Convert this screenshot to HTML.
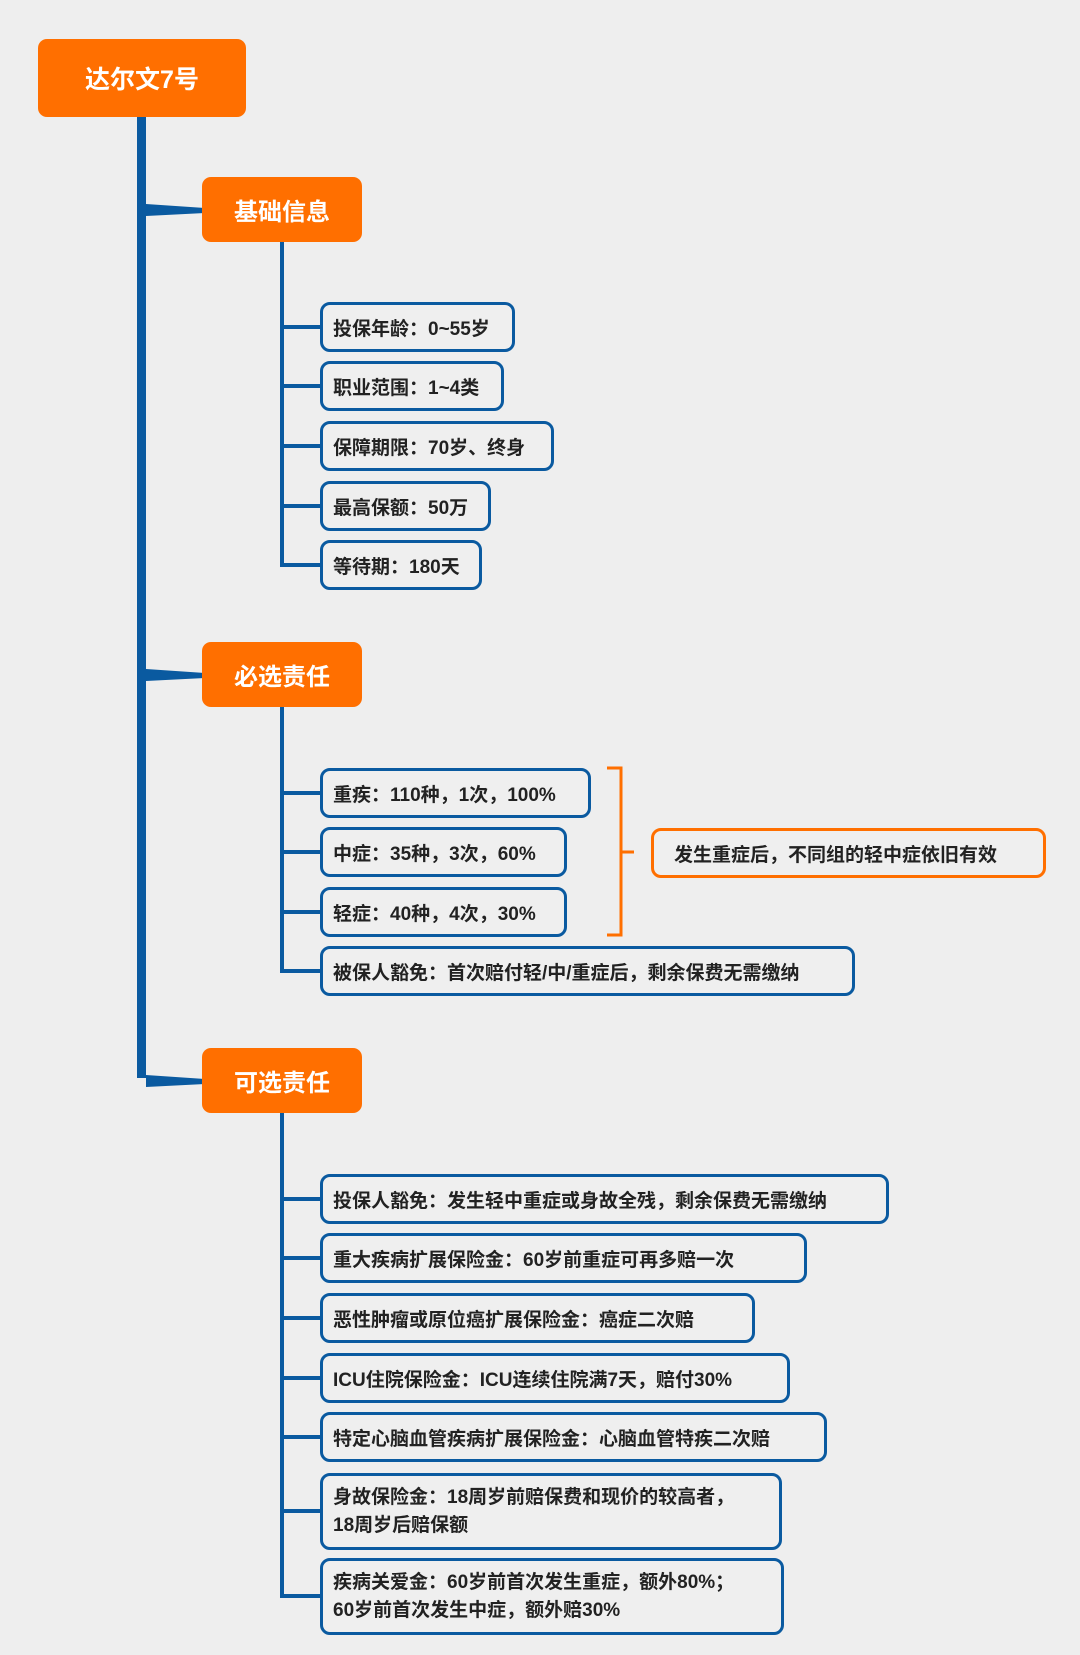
<!DOCTYPE html>
<html><head><meta charset="utf-8"><style>
*{margin:0;padding:0;box-sizing:border-box}
body{width:1080px;height:1655px;background:#eeeeee;position:relative;overflow:hidden;font-family:"Liberation Sans","Noto Sans CJK SC",sans-serif}
.o{position:absolute;background:#ff6f00;color:#fff;font-weight:bold;border-radius:9px;display:flex;align-items:center;justify-content:center}
.b{position:absolute;left:320px;height:50px;border:3px solid #0a5aa0;border-radius:10px;background:#efefef;color:#222;font-weight:bold;font-size:19px;padding-left:10px;display:flex;align-items:center;white-space:nowrap}
.t{height:77px;align-items:center;line-height:28px;white-space:normal}
svg{position:absolute;left:0;top:0}
</style></head><body>
<svg width="1080" height="1655">
<g fill="#0a5aa0">
<rect x="137" y="114" width="9" height="964"/>
<polygon points="146,204 205,208 205,213 146,216"/>
<polygon points="146,669 205,673 205,678 146,681"/>
<polygon points="146,1075 205,1079 205,1084 146,1087"/>
</g>
<g stroke="#0a5aa0" stroke-width="4" fill="none">
<line x1="282" y1="242" x2="282" y2="567"/>
<line x1="282" y1="327" x2="322" y2="327"/>
<line x1="282" y1="386" x2="322" y2="386"/>
<line x1="282" y1="446" x2="322" y2="446"/>
<line x1="282" y1="506" x2="322" y2="506"/>
<line x1="280" y1="565" x2="322" y2="565"/>
<line x1="282" y1="707" x2="282" y2="973"/>
<line x1="282" y1="793" x2="322" y2="793"/>
<line x1="282" y1="852" x2="322" y2="852"/>
<line x1="282" y1="912" x2="322" y2="912"/>
<line x1="280" y1="971" x2="322" y2="971"/>
<line x1="282" y1="1113" x2="282" y2="1598"/>
<line x1="282" y1="1199" x2="322" y2="1199"/>
<line x1="282" y1="1258" x2="322" y2="1258"/>
<line x1="282" y1="1318" x2="322" y2="1318"/>
<line x1="282" y1="1378" x2="322" y2="1378"/>
<line x1="282" y1="1437" x2="322" y2="1437"/>
<line x1="282" y1="1511" x2="322" y2="1511"/>
<line x1="280" y1="1596" x2="322" y2="1596"/>
</g>
<path d="M607,768 H621 V935 H607 M621,852 H634" stroke="#ff6f00" stroke-width="3" fill="none"/>
</svg>
<div class="o" style="left:38px;top:39px;width:208px;height:78px;font-size:25px">达尔文7号</div>
<div class="o" style="left:202px;top:177px;width:160px;height:65px;font-size:24px">基础信息</div>
<div class="o" style="left:202px;top:642px;width:160px;height:65px;font-size:24px">必选责任</div>
<div class="o" style="left:202px;top:1048px;width:160px;height:65px;font-size:24px">可选责任</div>

<div class="b" style="top:302px;width:195px">投保年龄：0~55岁</div>
<div class="b" style="top:361px;width:184px">职业范围：1~4类</div>
<div class="b" style="top:421px;width:234px">保障期限：70岁、终身</div>
<div class="b" style="top:481px;width:171px">最高保额：50万</div>
<div class="b" style="top:540px;width:162px">等待期：180天</div>

<div class="b" style="top:768px;width:271px">重疾：110种，1次，100%</div>
<div class="b" style="top:827px;width:247px">中症：35种，3次，60%</div>
<div class="b" style="top:887px;width:247px">轻症：40种，4次，30%</div>
<div class="b" style="top:946px;width:535px">被保人豁免：首次赔付轻/中/重症后，剩余保费无需缴纳</div>
<div class="b" style="left:651px;top:828px;width:395px;height:50px;border-color:#ff6f00;padding-left:20px">发生重症后，不同组的轻中症依旧有效</div>

<div class="b" style="top:1174px;width:569px">投保人豁免：发生轻中重症或身故全残，剩余保费无需缴纳</div>
<div class="b" style="top:1233px;width:487px">重大疾病扩展保险金：60岁前重症可再多赔一次</div>
<div class="b" style="top:1293px;width:435px">恶性肿瘤或原位癌扩展保险金：癌症二次赔</div>
<div class="b" style="top:1353px;width:470px">ICU住院保险金：ICU连续住院满7天，赔付30%</div>
<div class="b" style="top:1412px;width:507px">特定心脑血管疾病扩展保险金：心脑血管特疾二次赔</div>
<div class="b t" style="top:1473px;width:462px">身故保险金：18周岁前赔保费和现价的较高者，<br>18周岁后赔保额</div>
<div class="b t" style="top:1558px;width:464px">疾病关爱金：60岁前首次发生重症，额外80%；<br>60岁前首次发生中症，额外赔30%</div>
</body></html>
